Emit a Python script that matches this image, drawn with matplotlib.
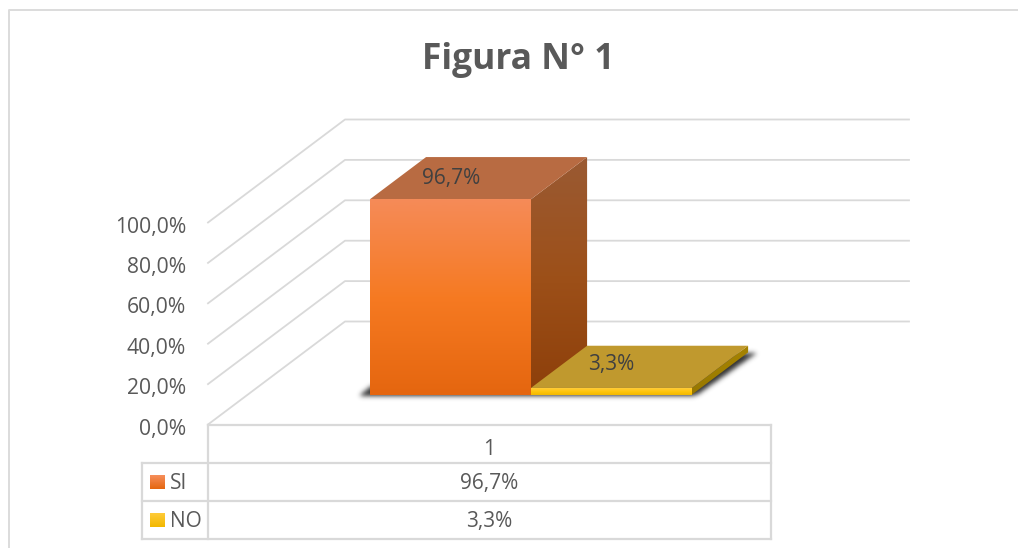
import numpy as np
import matplotlib
matplotlib.use('Agg')
import matplotlib.pyplot as plt
from matplotlib.patches import Polygon
from matplotlib.path import Path
from matplotlib.colors import LinearSegmentedColormap

categories = ['1']
series = ['SI', 'NO']
values = [96.7, 3.3]
value_labels = ['96,7%', '3,3%']
ticks = [0, 20, 40, 60, 80, 100]
tick_labels = ['0,0%', '20,0%', '40,0%', '60,0%', '80,0%', '100,0%']

plt.rcParams['font.family'] = ['Open Sans', 'DejaVu Sans']
TXT = '#595959'
LINE = '#d9d9d9'

# geometry of the 3D box, in pixels
X0, X1 = 208, 771      # front of the floor
Y0 = 424.5             # front of the floor
PX_PER_UNIT = 2.02
DX, DY = 137, -103     # full depth offset
XEND = 909             # right end of back wall

def proj(xf, v, d):
    # xf: fraction of category width, v: value, d: depth 0..1
    return (X0 + xf * (X1 - X0) + d * DX, Y0 - v * PX_PER_UNIT + d * DY)

fig = plt.figure(figsize=(10.18, 5.48), dpi=100)
ax = fig.add_axes([0, 0, 1, 1])
ax.set_xlim(0, 1018)
ax.set_ylim(548, 0)
ax.axis('off')

# chart frame
ax.plot([9, 9, 1018], [548, 9.5, 9.5], color='#dcdcdc', lw=1.4, zorder=1)

# gridlines: side wall + back wall
for t in ticks:
    a, b = proj(0, t, 0), proj(0, t, 1)
    ax.plot([a[0], b[0], XEND], [a[1], b[1], b[1]], color=LINE, lw=1.3, zorder=1)

for t, lab in zip(ticks, tick_labels):
    ax.text(186, proj(0, t, 0)[1] + 4.5, lab, ha='right', va='center', fontsize=15.2, color=TXT)

ax.text(518, 60, 'Figura N° 1', ha='center', va='center', fontsize=25.5, fontweight='bold', color=TXT)

BAR_W = 0.286
BAR_START = 0.217
D0, D1 = 0.29, 0.70

def grad(poly, cols, name, zorder):
    # vertical gradient clipped to a polygon
    xs = [p[0] for p in poly]
    ys = [p[1] for p in poly]
    cmap = LinearSegmentedColormap.from_list(name, list(cols))
    im = ax.imshow(np.linspace(0, 1, 128).reshape(-1, 1), cmap=cmap, aspect='auto',
                   extent=(min(xs), max(xs), max(ys), min(ys)), zorder=zorder, interpolation='bilinear')
    clip = Polygon(poly, closed=True, transform=ax.transData, facecolor='none', edgecolor='none')
    ax.add_patch(clip)
    im.set_clip_path(clip)
    ax.set_xlim(0, 1018)
    ax.set_ylim(548, 0)

# soft shadow under the bars, blurred by hand
x_a = BAR_START
x_b = BAR_START + 2 * BAR_W
fl = proj(x_a, 0, D0)
fr = proj(x_b, 0, D0)
br = proj(x_b, 0, D1)
sh = [(fl[0] - 10, fl[1] + 1), (fl[0], fl[1] - 8), (br[0] - 20, br[1]), (br[0] + 8, br[1] + 1),
      (fr[0] + 7, fr[1] - 1), (fr[0], fr[1] + 1.5)]
gx, gy = np.meshgrid(np.arange(0, 1018) + 0.5, np.arange(0, 548) + 0.5)
mask = Path(sh).contains_points(np.c_[gx.ravel(), gy.ravel()]).reshape(gx.shape).astype(float)
kern = np.exp(-0.5 * (np.arange(-8, 9) / 2.4) ** 2)
kern /= kern.sum()
mask = np.apply_along_axis(lambda r: np.convolve(r, kern, mode='same'), 0, mask)
mask = np.apply_along_axis(lambda r: np.convolve(r, kern, mode='same'), 1, mask)
shadow = np.zeros(mask.shape + (4,))
shadow[..., :3] = 0.16
shadow[..., 3] = mask * 0.95
ax.imshow(shadow, extent=(0, 1018, 548, 0), aspect='auto', zorder=2)
ax.set_xlim(0, 1018)
ax.set_ylim(548, 0)

front_cols = [('#f58b58', '#f67a22', '#e5660f'), ('#ffcb3a', '#ffc60c', '#f2b800')]
side_cols = [('#9a5a33', '#9d5019', '#8d3f0a'), ('#a58200', '#a07f00', '#967600')]
top_cols = ['#b86b42', '#c0992e']
label_shift = [(-27.5, -1), (-28, -3.5)]

for i, v in enumerate(values):
    xa = BAR_START + i * BAR_W
    xb = xa + BAR_W
    front = [proj(xa, 0, D0), proj(xb, 0, D0), proj(xb, v, D0), proj(xa, v, D0)]
    side = [proj(xb, 0, D0), proj(xb, 0, D1), proj(xb, v, D1), proj(xb, v, D0)]
    top = [proj(xa, v, D0), proj(xb, v, D0), proj(xb, v, D1), proj(xa, v, D1)]
    grad(side, side_cols[i], 's%d' % i, 3 + i * 3)
    ax.add_patch(Polygon(top, closed=True, facecolor=top_cols[i], edgecolor='none', zorder=4 + i * 3))
    grad(front, front_cols[i], 'f%d' % i, 5 + i * 3)
    # data label sits on the top face
    c = proj(xa + BAR_W * 0.5, v, (D0 + D1) / 2)
    ax.text(c[0] + label_shift[i][0], c[1] + label_shift[i][1] + 1.5, value_labels[i], ha='center', va='center',
            fontsize=15, color='#404040', zorder=20)

# data table
T_LEFT = 142
row_y = [425, 463, 501, 539]
ax.plot([X0, X1], [row_y[0], row_y[0]], color=LINE, lw=1.6, zorder=1)
for y in row_y[1:]:
    ax.plot([T_LEFT, X1], [y, y], color=LINE, lw=1.6, zorder=1)
ax.plot([X0, X0], [row_y[0], row_y[-1]], color=LINE, lw=1.6, zorder=1)
ax.plot([X1, X1], [row_y[0], row_y[-1]], color=LINE, lw=1.6, zorder=1)
ax.plot([T_LEFT, T_LEFT], [row_y[1], row_y[-1]], color=LINE, lw=1.6, zorder=1)

xc = (X0 + X1) / 2
ax.text(xc, 449.5, categories[0], ha='center', va='center', fontsize=15, color=TXT)
key_cols = [('#f68f5c', '#e5660f'), ('#ffcb3a', '#f2b800')]
for i, s in enumerate(series):
    yc = (row_y[i + 1] + row_y[i + 2]) / 2
    ax.text(xc, yc + 1.5, value_labels[i], ha='center', va='center', fontsize=15, color=TXT)
    ax.text(170, yc + 1.5, s, ha='left', va='center', fontsize=15, color=TXT)
    key = [(150, yc - 7), (165, yc - 7), (165, yc + 7), (150, yc + 7)]
    grad(key, key_cols[i], 'k%d' % i, 6)

fig.savefig('out.png', dpi=100, facecolor='white')
